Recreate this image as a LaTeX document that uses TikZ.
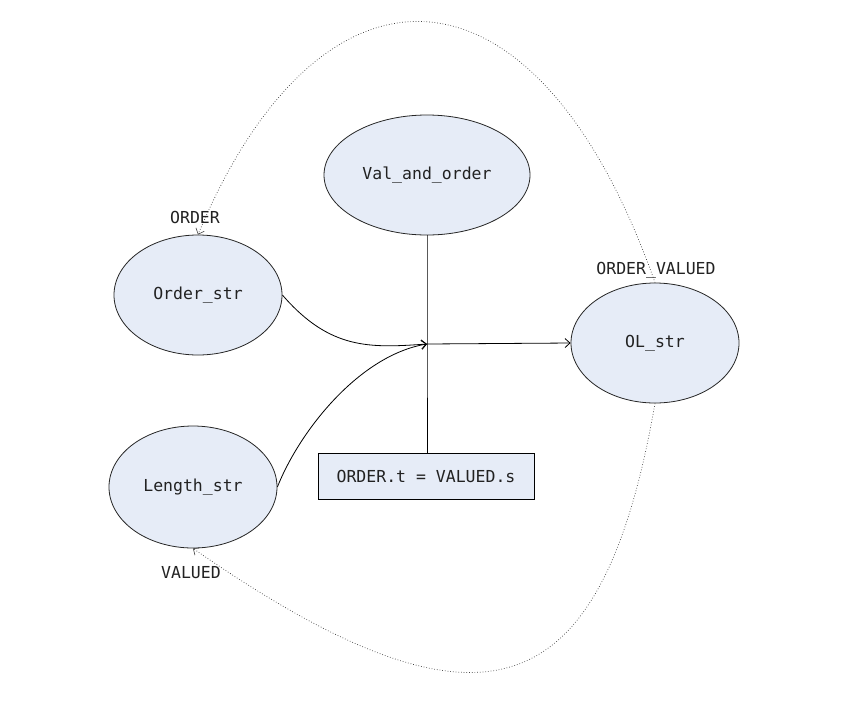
\documentclass[tikz,border=0pt]{standalone}
\usepackage{fontspec}
\setmonofont{DejaVu Sans Mono}
\usetikzlibrary{shapes.geometric,arrows.meta}
\definecolor{nodefill}{RGB}{230,236,247}
\definecolor{txt}{RGB}{34,34,34}
\begin{document}
\begin{tikzpicture}[x=1pt,y=-1pt,
  every node/.style={font=\ttfamily\fontsize{16.5}{19}\selectfont, text=txt},
  ell/.style={ellipse, draw=black!85, line width=0.8pt, fill=nodefill, inner sep=0pt},
  boxnode/.style={rectangle, draw=black, line width=1pt, fill=nodefill, minimum width=216pt, minimum height=46pt, inner sep=0pt},
  lbl/.style={inner sep=0pt},
  conn/.style={draw=black, line width=0.8pt},
  tip/.style={-{Straight Barb[length=5pt,width=9pt]}},
  dot/.style={draw=black!75, line width=0.7pt, dotted, -{Straight Barb[length=5pt,width=9pt,line width=0.6pt]}}]
\useasboundingbox (0,0) rectangle (846,716);
\fill[white] (0,0) rectangle (846,716);
\node[ell, minimum width=206pt, minimum height=120pt] (val) at (427,175) {Val\_and\_order};
\node[ell, minimum width=168pt, minimum height=120pt] (ord) at (198,295) {Order\_str};
\node[ell, minimum width=168pt, minimum height=122pt] (len) at (193,487) {Length\_str};
\node[ell, minimum width=168pt, minimum height=120pt] (ol) at (655,343) {OL\_str};
\node[boxnode] (box) at (426,476) {ORDER.t = VALUED.s};
\coordinate (j) at (427,344);
\draw[conn] (val.south) -- (j) -- (j |- box.north);
\draw[conn,tip] (j) -- (ol.west);
\draw[conn,tip] (ord.east) .. controls (330,350) and (370,348) .. (j);
\draw[conn,tip] (len.east) .. controls (300,430) and (360,355) .. (j);
\draw[dot] (ol.north) .. controls (535,-57) and (320,-57) .. (ord.north);
\draw[dot] (ol.south) .. controls (601,713) and (480,747) .. (len.south);
\node[lbl] (lorder) at (195,217) {ORDER};
\node[lbl] (lov) at (656,270) {ORDER\_VALUED};
\node[lbl] (lval) at (191,573) {VALUED};
\end{tikzpicture}
\end{document}
